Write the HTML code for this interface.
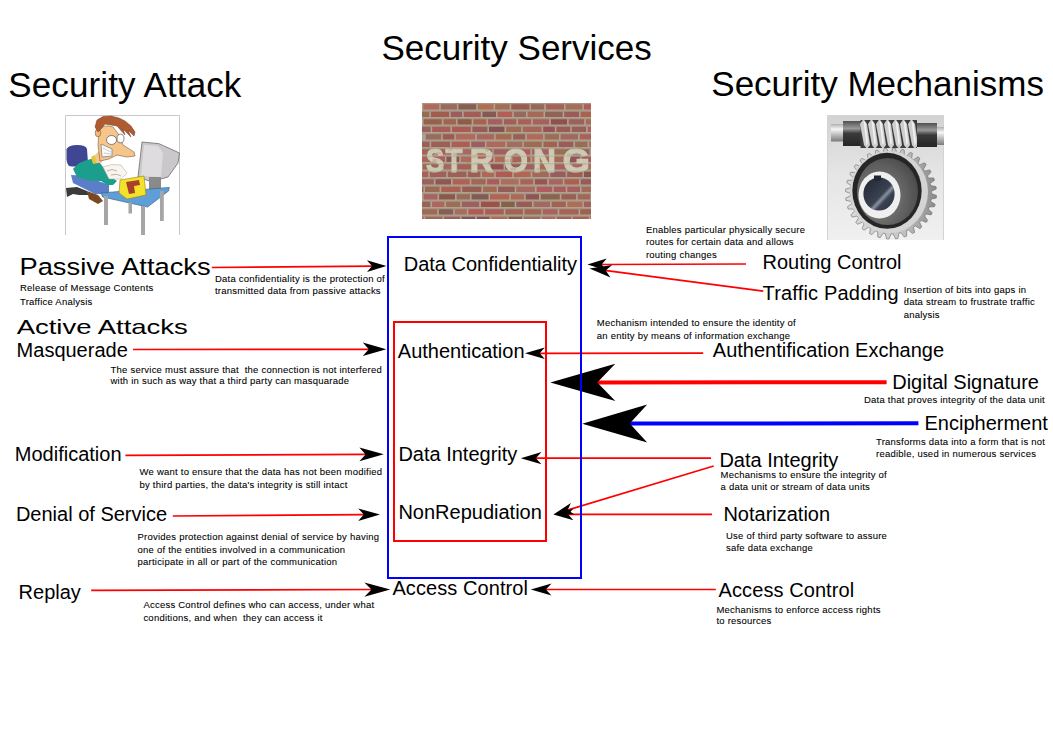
<!DOCTYPE html>
<html><head><meta charset="utf-8"><style>
html,body{margin:0;padding:0;background:#fff;width:1053px;height:745px;overflow:hidden;}
svg text{font-family:"Liberation Sans", sans-serif;fill:#000;}
</style></head><body>
<svg width="1053" height="745" viewBox="0 0 1053 745" style="position:absolute;left:0;top:0">
<g transform="translate(65,115)">
<defs><filter id="cb" x="-5%" y="-5%" width="110%" height="110%"><feGaussianBlur stdDeviation="0.45"/></filter></defs>
<rect x="0" y="0" width="115" height="120" fill="#fff"/>
<path d="M0.5,120 V0.5 H114.5 V120" fill="none" stroke="#c8c8c8" stroke-width="1"/>
<g filter="url(#cb)">
<path d="M1.5,34 Q4,30 12,30 Q21,30 22,34 L23,48 Q14,53 4,51 Q1,48 1.5,40 Z" fill="#3f4494"/>
<path d="M1,73 L12,72 L22,76 L24,80 L14,80 L8,79 L2,82 Z" fill="#3a3a3a"/>
<path d="M6,60 Q16,60 28,64 L44,70 L44,79 L30,79 L20,74 L8,68 Z" fill="#5a7ec8"/>
<path d="M22,76 L33,80 L38,86 L33,89 L24,84 Z" fill="#7a4a24"/>
<path d="M8,54 Q14,46 26,44 L32,44 L38,52 L46,62 L52,66 L48,70 L42,70 L36,66 L26,66 L12,62 Z" fill="#1f9e8c"/>
<path d="M26,42 L30,40 L33,48 L28,49 Z" fill="#e0c838"/>
<path d="M30,40 L36,34 L42,40 L36,48 L31,48 Z" fill="#f5c58a"/>
<path d="M34,14 Q40,9 48,12 L54,20 L58,30 L69,37 L70,41 L62,42 L52,40 L44,44 L35,46 L33,30 Z" fill="#f5c58a" stroke="#7a5a40" stroke-width="0.6"/>
<ellipse cx="33" cy="18" rx="2.8" ry="3.8" fill="#f2b878" stroke="#7a5a40" stroke-width="0.6"/>
<path d="M30,12 L32,5 L38,1.5 L46,1 L54,3 L60,6 L66,11 L70,17 L69,21 L63,15 L66,22 L58,14 L60,20 L52,11 L46,10 L40,9 L36,14 L33,17 Z" fill="#b05a32" stroke="#6a3a20" stroke-width="0.5"/>
<ellipse cx="46.5" cy="25" rx="5" ry="4.5" fill="#fff" stroke="#555" stroke-width="0.7"/>
<ellipse cx="55.5" cy="23.5" rx="3.5" ry="4.3" fill="#fff" stroke="#555" stroke-width="0.7"/>
<path d="M36,29 L47,34 L47,41 L37,42 Z" fill="#fafafa" stroke="#666" stroke-width="0.6"/>
<path d="M38,33 L46,37 M39,38 L46,39" stroke="#888" stroke-width="0.4"/>
<path d="M38,52 Q46,48 56,50 L62,58 L56,64 L44,64 Z" fill="#f8f4f0" stroke="#b8a090" stroke-width="0.5"/>
<path d="M42,56 Q47,53 52,56 M46,60 Q52,58 56,61" stroke="#a08070" stroke-width="0.6" fill="none"/>
<path d="M77,27 L94,28.7 L114.5,38 L113,48 L103,62 L96,64 L84,66 L73,62 Z" fill="#cac8ca" stroke="#6c6c6c" stroke-width="0.8"/>
<path d="M79,30 L93,31 L98,38 L96,62 L76,61 Z" fill="#dedcde"/>
<path d="M84,62 L96,62 L96,77 L84,77 Z" fill="#8a8a8a"/>
<path d="M36,78 L104.3,72.4 L103.5,76 L82.5,92 L37.7,82 Z" fill="#5f9ed6" stroke="#3f6488" stroke-width="0.7"/>
<path d="M55,65 L79,61 L81,80 L62,84 L54,78 Z" fill="#f2e22a" stroke="#9a7a20" stroke-width="0.6"/>
<path d="M61,67 L74,65 L75,70 L69,71 L70,78 L64,79 Z" fill="#a8402a"/>
<rect x="39" y="81" width="4" height="29" fill="#a6a6a6"/>
<rect x="63.5" y="87.5" width="3.5" height="11" fill="#a6a6a6"/>
<rect x="76" y="91" width="4" height="29" fill="#a6a6a6"/>
<rect x="95" y="76" width="3.8" height="30" fill="#a6a6a6"/>
</g></g>
<g transform="translate(422,103)">
<defs><clipPath id="wc"><rect x="0" y="0" width="169" height="116"/></clipPath><filter id="bl" x="-10%" y="-10%" width="120%" height="120%"><feGaussianBlur stdDeviation="0.7"/></filter><filter id="bl2" x="-10%" y="-10%" width="120%" height="120%"><feGaussianBlur stdDeviation="0.75"/></filter></defs>
<g clip-path="url(#wc)">
<rect x="0" y="0" width="169" height="116" fill="#aea290"/>
<g filter="url(#bl2)">
<rect x="1.3" y="1.2" width="15.9" height="5.3" fill="rgb(179,104,94)"/>
<rect x="18.8" y="1.2" width="16.1" height="5.3" fill="rgb(155,106,95)"/>
<rect x="36.5" y="1.2" width="17.7" height="5.3" fill="rgb(133,94,81)"/>
<rect x="55.8" y="1.2" width="15.7" height="5.3" fill="rgb(178,110,81)"/>
<rect x="73.1" y="1.2" width="14.6" height="5.3" fill="rgb(164,110,85)"/>
<rect x="89.3" y="1.2" width="18.1" height="5.3" fill="rgb(152,91,81)"/>
<rect x="108.9" y="1.2" width="13.3" height="5.3" fill="rgb(150,104,90)"/>
<rect x="123.9" y="1.2" width="18.1" height="5.3" fill="rgb(166,97,89)"/>
<rect x="143.6" y="1.2" width="16.7" height="5.3" fill="rgb(164,110,88)"/>
<rect x="161.9" y="1.2" width="15.8" height="5.3" fill="rgb(179,92,88)"/>
<rect x="-6.4" y="8.7" width="13.7" height="5.3" fill="rgb(152,108,83)"/>
<rect x="8.9" y="8.7" width="18.2" height="5.3" fill="rgb(162,92,80)"/>
<rect x="28.7" y="8.7" width="11.4" height="5.3" fill="rgb(156,91,95)"/>
<rect x="41.7" y="8.7" width="17.1" height="5.3" fill="rgb(163,92,86)"/>
<rect x="60.4" y="8.7" width="13.6" height="5.3" fill="rgb(132,89,82)"/>
<rect x="75.5" y="8.7" width="14.7" height="5.3" fill="rgb(179,93,84)"/>
<rect x="91.8" y="8.7" width="12.2" height="5.3" fill="rgb(151,104,95)"/>
<rect x="105.6" y="8.7" width="15.9" height="5.3" fill="rgb(164,106,86)"/>
<rect x="123.1" y="8.7" width="17.6" height="5.3" fill="rgb(143,100,84)"/>
<rect x="142.3" y="8.7" width="14.8" height="5.3" fill="rgb(156,90,88)"/>
<rect x="158.6" y="8.7" width="19.2" height="5.3" fill="rgb(168,99,80)"/>
<rect x="1.6" y="16.2" width="18.2" height="5.3" fill="rgb(150,98,75)"/>
<rect x="21.5" y="16.2" width="12.6" height="5.3" fill="rgb(164,98,80)"/>
<rect x="35.6" y="16.2" width="14.0" height="5.3" fill="rgb(139,92,74)"/>
<rect x="51.3" y="16.2" width="13.1" height="5.3" fill="rgb(170,97,80)"/>
<rect x="65.9" y="16.2" width="14.4" height="5.3" fill="rgb(164,94,95)"/>
<rect x="81.9" y="16.2" width="12.5" height="5.3" fill="rgb(162,95,84)"/>
<rect x="96.0" y="16.2" width="13.2" height="5.3" fill="rgb(169,97,86)"/>
<rect x="110.8" y="16.2" width="16.4" height="5.3" fill="rgb(167,96,92)"/>
<rect x="128.9" y="16.2" width="16.2" height="5.3" fill="rgb(143,81,75)"/>
<rect x="146.7" y="16.2" width="15.5" height="5.3" fill="rgb(158,97,92)"/>
<rect x="163.8" y="16.2" width="18.0" height="5.3" fill="rgb(169,105,89)"/>
<rect x="-10.6" y="23.7" width="19.2" height="5.3" fill="rgb(154,97,95)"/>
<rect x="10.2" y="23.7" width="18.2" height="5.3" fill="rgb(169,92,88)"/>
<rect x="30.1" y="23.7" width="18.7" height="5.3" fill="rgb(173,90,82)"/>
<rect x="50.4" y="23.7" width="15.0" height="5.3" fill="rgb(151,91,85)"/>
<rect x="66.9" y="23.7" width="15.6" height="5.3" fill="rgb(134,82,83)"/>
<rect x="84.2" y="23.7" width="15.0" height="5.3" fill="rgb(160,106,84)"/>
<rect x="100.8" y="23.7" width="18.8" height="5.3" fill="rgb(165,101,89)"/>
<rect x="121.2" y="23.7" width="11.6" height="5.3" fill="rgb(150,82,87)"/>
<rect x="134.4" y="23.7" width="13.9" height="5.3" fill="rgb(154,92,82)"/>
<rect x="149.8" y="23.7" width="14.3" height="5.3" fill="rgb(151,94,90)"/>
<rect x="165.8" y="23.7" width="16.9" height="5.3" fill="rgb(178,92,93)"/>
<rect x="3.8" y="31.2" width="15.4" height="5.3" fill="rgb(150,109,92)"/>
<rect x="20.8" y="31.2" width="11.5" height="5.3" fill="rgb(152,92,82)"/>
<rect x="33.9" y="31.2" width="19.3" height="5.3" fill="rgb(178,103,90)"/>
<rect x="54.9" y="31.2" width="17.3" height="5.3" fill="rgb(168,104,94)"/>
<rect x="73.7" y="31.2" width="15.7" height="5.3" fill="rgb(166,106,80)"/>
<rect x="91.1" y="31.2" width="12.1" height="5.3" fill="rgb(150,97,83)"/>
<rect x="104.8" y="31.2" width="16.3" height="5.3" fill="rgb(179,105,88)"/>
<rect x="122.7" y="31.2" width="14.3" height="5.3" fill="rgb(154,109,86)"/>
<rect x="138.6" y="31.2" width="17.4" height="5.3" fill="rgb(160,104,95)"/>
<rect x="157.7" y="31.2" width="14.0" height="5.3" fill="rgb(171,98,86)"/>
<rect x="-9.8" y="38.7" width="17.4" height="5.3" fill="rgb(156,96,92)"/>
<rect x="9.2" y="38.7" width="18.8" height="5.3" fill="rgb(156,94,84)"/>
<rect x="29.6" y="38.7" width="18.1" height="5.3" fill="rgb(177,91,82)"/>
<rect x="49.3" y="38.7" width="13.6" height="5.3" fill="rgb(155,93,94)"/>
<rect x="64.5" y="38.7" width="18.8" height="5.3" fill="rgb(176,103,92)"/>
<rect x="84.9" y="38.7" width="15.4" height="5.3" fill="rgb(160,109,94)"/>
<rect x="101.8" y="38.7" width="18.0" height="5.3" fill="rgb(158,109,81)"/>
<rect x="121.5" y="38.7" width="13.6" height="5.3" fill="rgb(161,99,80)"/>
<rect x="136.7" y="38.7" width="14.6" height="5.3" fill="rgb(156,90,88)"/>
<rect x="153.0" y="38.7" width="12.5" height="5.3" fill="rgb(151,110,83)"/>
<rect x="167.1" y="38.7" width="16.4" height="5.3" fill="rgb(170,110,91)"/>
<rect x="-0.1" y="46.2" width="13.0" height="5.3" fill="rgb(165,98,85)"/>
<rect x="14.5" y="46.2" width="17.4" height="5.3" fill="rgb(167,91,85)"/>
<rect x="33.5" y="46.2" width="17.6" height="5.3" fill="rgb(167,106,96)"/>
<rect x="52.8" y="46.2" width="17.4" height="5.3" fill="rgb(162,97,82)"/>
<rect x="71.8" y="46.2" width="18.5" height="5.3" fill="rgb(162,94,94)"/>
<rect x="91.9" y="46.2" width="16.4" height="5.3" fill="rgb(179,90,92)"/>
<rect x="110.0" y="46.2" width="16.6" height="5.3" fill="rgb(166,100,94)"/>
<rect x="128.2" y="46.2" width="19.3" height="5.3" fill="rgb(153,110,83)"/>
<rect x="149.0" y="46.2" width="18.6" height="5.3" fill="rgb(152,99,90)"/>
<rect x="169.2" y="46.2" width="17.1" height="5.3" fill="rgb(130,91,88)"/>
<rect x="-7.6" y="53.7" width="15.8" height="5.3" fill="rgb(174,98,95)"/>
<rect x="9.8" y="53.7" width="13.1" height="5.3" fill="rgb(177,92,93)"/>
<rect x="24.5" y="53.7" width="12.8" height="5.3" fill="rgb(140,84,87)"/>
<rect x="38.9" y="53.7" width="15.5" height="5.3" fill="rgb(173,106,94)"/>
<rect x="56.0" y="53.7" width="15.3" height="5.3" fill="rgb(180,92,87)"/>
<rect x="73.0" y="53.7" width="15.9" height="5.3" fill="rgb(176,107,85)"/>
<rect x="90.4" y="53.7" width="18.1" height="5.3" fill="rgb(167,98,89)"/>
<rect x="110.2" y="53.7" width="19.0" height="5.3" fill="rgb(177,109,86)"/>
<rect x="130.8" y="53.7" width="12.5" height="5.3" fill="rgb(167,106,88)"/>
<rect x="144.9" y="53.7" width="13.0" height="5.3" fill="rgb(147,83,88)"/>
<rect x="159.6" y="53.7" width="14.4" height="5.3" fill="rgb(167,91,96)"/>
<rect x="0.7" y="61.2" width="19.3" height="5.3" fill="rgb(153,105,82)"/>
<rect x="21.7" y="61.2" width="11.9" height="5.3" fill="rgb(167,104,93)"/>
<rect x="35.2" y="61.2" width="17.8" height="5.3" fill="rgb(162,98,87)"/>
<rect x="54.6" y="61.2" width="12.4" height="5.3" fill="rgb(163,105,96)"/>
<rect x="68.6" y="61.2" width="12.9" height="5.3" fill="rgb(149,80,80)"/>
<rect x="83.1" y="61.2" width="17.6" height="5.3" fill="rgb(150,91,86)"/>
<rect x="102.4" y="61.2" width="11.5" height="5.3" fill="rgb(159,100,91)"/>
<rect x="115.5" y="61.2" width="15.4" height="5.3" fill="rgb(165,108,83)"/>
<rect x="132.4" y="61.2" width="16.4" height="5.3" fill="rgb(172,96,96)"/>
<rect x="150.4" y="61.2" width="11.6" height="5.3" fill="rgb(170,103,96)"/>
<rect x="163.6" y="61.2" width="15.7" height="5.3" fill="rgb(177,110,86)"/>
<rect x="-10.1" y="68.7" width="16.3" height="5.3" fill="rgb(177,94,87)"/>
<rect x="7.8" y="68.7" width="16.4" height="5.3" fill="rgb(161,95,90)"/>
<rect x="25.8" y="68.7" width="18.5" height="5.3" fill="rgb(156,96,86)"/>
<rect x="45.9" y="68.7" width="12.5" height="5.3" fill="rgb(157,94,82)"/>
<rect x="60.0" y="68.7" width="12.2" height="5.3" fill="rgb(176,103,84)"/>
<rect x="73.8" y="68.7" width="16.4" height="5.3" fill="rgb(175,90,83)"/>
<rect x="91.8" y="68.7" width="16.9" height="5.3" fill="rgb(179,101,83)"/>
<rect x="110.3" y="68.7" width="16.5" height="5.3" fill="rgb(160,106,86)"/>
<rect x="128.3" y="68.7" width="15.3" height="5.3" fill="rgb(150,91,96)"/>
<rect x="145.2" y="68.7" width="15.3" height="5.3" fill="rgb(156,95,83)"/>
<rect x="162.0" y="68.7" width="18.1" height="5.3" fill="rgb(139,83,73)"/>
<rect x="-0.1" y="76.2" width="12.0" height="5.3" fill="rgb(153,100,92)"/>
<rect x="13.5" y="76.2" width="15.5" height="5.3" fill="rgb(143,86,83)"/>
<rect x="30.7" y="76.2" width="17.0" height="5.3" fill="rgb(177,96,85)"/>
<rect x="49.3" y="76.2" width="14.3" height="5.3" fill="rgb(161,102,86)"/>
<rect x="65.1" y="76.2" width="12.2" height="5.3" fill="rgb(175,90,90)"/>
<rect x="78.9" y="76.2" width="17.8" height="5.3" fill="rgb(172,110,92)"/>
<rect x="98.3" y="76.2" width="12.9" height="5.3" fill="rgb(168,100,88)"/>
<rect x="112.8" y="76.2" width="12.3" height="5.3" fill="rgb(153,85,84)"/>
<rect x="126.8" y="76.2" width="14.0" height="5.3" fill="rgb(167,101,93)"/>
<rect x="142.4" y="76.2" width="14.6" height="5.3" fill="rgb(173,95,82)"/>
<rect x="158.7" y="76.2" width="13.8" height="5.3" fill="rgb(153,90,91)"/>
<rect x="-10.4" y="83.7" width="11.8" height="5.3" fill="rgb(158,99,90)"/>
<rect x="3.0" y="83.7" width="14.6" height="5.3" fill="rgb(155,107,82)"/>
<rect x="19.2" y="83.7" width="19.4" height="5.3" fill="rgb(170,96,83)"/>
<rect x="40.2" y="83.7" width="19.2" height="5.3" fill="rgb(150,93,83)"/>
<rect x="61.1" y="83.7" width="13.5" height="5.3" fill="rgb(162,106,81)"/>
<rect x="76.1" y="83.7" width="16.6" height="5.3" fill="rgb(150,93,88)"/>
<rect x="94.3" y="83.7" width="18.6" height="5.3" fill="rgb(167,107,96)"/>
<rect x="114.6" y="83.7" width="15.6" height="5.3" fill="rgb(177,93,94)"/>
<rect x="131.7" y="83.7" width="12.0" height="5.3" fill="rgb(169,91,92)"/>
<rect x="145.3" y="83.7" width="12.7" height="5.3" fill="rgb(165,95,95)"/>
<rect x="159.6" y="83.7" width="16.2" height="5.3" fill="rgb(163,105,93)"/>
<rect x="1.6" y="91.2" width="13.9" height="5.3" fill="rgb(166,99,95)"/>
<rect x="17.1" y="91.2" width="15.9" height="5.3" fill="rgb(139,89,72)"/>
<rect x="34.6" y="91.2" width="13.4" height="5.3" fill="rgb(151,110,85)"/>
<rect x="49.6" y="91.2" width="16.9" height="5.3" fill="rgb(131,90,84)"/>
<rect x="68.0" y="91.2" width="19.3" height="5.3" fill="rgb(180,100,82)"/>
<rect x="88.9" y="91.2" width="13.2" height="5.3" fill="rgb(173,105,88)"/>
<rect x="103.7" y="91.2" width="13.3" height="5.3" fill="rgb(146,83,86)"/>
<rect x="118.7" y="91.2" width="19.1" height="5.3" fill="rgb(137,99,75)"/>
<rect x="139.4" y="91.2" width="14.7" height="5.3" fill="rgb(153,96,81)"/>
<rect x="155.7" y="91.2" width="12.6" height="5.3" fill="rgb(161,104,84)"/>
<rect x="169.9" y="91.2" width="15.0" height="5.3" fill="rgb(158,110,93)"/>
<rect x="-9.5" y="98.7" width="17.9" height="5.3" fill="rgb(154,99,84)"/>
<rect x="10.1" y="98.7" width="12.3" height="5.3" fill="rgb(178,99,96)"/>
<rect x="24.0" y="98.7" width="14.3" height="5.3" fill="rgb(158,109,86)"/>
<rect x="39.8" y="98.7" width="17.4" height="5.3" fill="rgb(156,97,96)"/>
<rect x="58.9" y="98.7" width="18.7" height="5.3" fill="rgb(158,81,73)"/>
<rect x="79.2" y="98.7" width="13.5" height="5.3" fill="rgb(130,99,73)"/>
<rect x="94.3" y="98.7" width="15.7" height="5.3" fill="rgb(152,92,85)"/>
<rect x="111.6" y="98.7" width="16.4" height="5.3" fill="rgb(161,105,95)"/>
<rect x="129.7" y="98.7" width="14.1" height="5.3" fill="rgb(165,94,82)"/>
<rect x="145.4" y="98.7" width="15.0" height="5.3" fill="rgb(176,109,86)"/>
<rect x="161.9" y="98.7" width="17.4" height="5.3" fill="rgb(162,94,91)"/>
<rect x="-1.0" y="106.2" width="16.2" height="5.3" fill="rgb(159,107,85)"/>
<rect x="16.8" y="106.2" width="14.4" height="5.3" fill="rgb(133,94,82)"/>
<rect x="32.7" y="106.2" width="12.1" height="5.3" fill="rgb(168,108,95)"/>
<rect x="46.4" y="106.2" width="15.1" height="5.3" fill="rgb(176,90,82)"/>
<rect x="63.1" y="106.2" width="18.7" height="5.3" fill="rgb(169,92,89)"/>
<rect x="83.4" y="106.2" width="17.5" height="5.3" fill="rgb(160,99,84)"/>
<rect x="102.5" y="106.2" width="16.7" height="5.3" fill="rgb(160,101,83)"/>
<rect x="120.7" y="106.2" width="14.9" height="5.3" fill="rgb(169,98,94)"/>
<rect x="137.3" y="106.2" width="19.3" height="5.3" fill="rgb(164,100,87)"/>
<rect x="158.2" y="106.2" width="18.9" height="5.3" fill="rgb(158,96,79)"/>
<rect x="-10.0" y="113.7" width="11.6" height="5.3" fill="rgb(171,102,92)"/>
<rect x="3.2" y="113.7" width="17.3" height="5.3" fill="rgb(161,102,84)"/>
<rect x="22.1" y="113.7" width="15.9" height="5.3" fill="rgb(155,92,94)"/>
<rect x="39.6" y="113.7" width="13.7" height="5.3" fill="rgb(130,87,88)"/>
<rect x="54.9" y="113.7" width="12.7" height="5.3" fill="rgb(139,80,85)"/>
<rect x="69.2" y="113.7" width="15.8" height="5.3" fill="rgb(175,107,82)"/>
<rect x="86.5" y="113.7" width="13.6" height="5.3" fill="rgb(133,90,74)"/>
<rect x="101.7" y="113.7" width="16.6" height="5.3" fill="rgb(153,110,93)"/>
<rect x="119.9" y="113.7" width="13.2" height="5.3" fill="rgb(174,106,90)"/>
<rect x="134.7" y="113.7" width="14.6" height="5.3" fill="rgb(160,100,84)"/>
<rect x="150.9" y="113.7" width="15.7" height="5.3" fill="rgb(173,92,81)"/>
<rect x="168.2" y="113.7" width="18.0" height="5.3" fill="rgb(171,101,80)"/>
</g>
<g filter="url(#bl)" opacity="0.9">
<text x="0" y="0" transform="translate(4.0,69) scale(0.820,1)" font-size="33" font-weight="bold" style="fill:#d2d4bc;stroke:#d2d4bc;stroke-width:1.2px">S</text>
<text x="0" y="0" transform="translate(23.5,69) scale(0.840,1)" font-size="33" font-weight="bold" style="fill:#d2d4bc;stroke:#d2d4bc;stroke-width:1.2px">T</text>
<text x="0" y="0" transform="translate(47.7,69) scale(1.000,1)" font-size="33" font-weight="bold" style="fill:#d2d4bc;stroke:#d2d4bc;stroke-width:1.2px">R</text>
<text x="0" y="0" transform="translate(81.9,69) scale(0.930,1)" font-size="33" font-weight="bold" style="fill:#d2d4bc;stroke:#d2d4bc;stroke-width:1.2px">O</text>
<text x="0" y="0" transform="translate(111.0,69) scale(0.960,1)" font-size="33" font-weight="bold" style="fill:#d2d4bc;stroke:#d2d4bc;stroke-width:1.2px">N</text>
<text x="0" y="0" transform="translate(140.7,69) scale(1.050,1)" font-size="33" font-weight="bold" style="fill:#d2d4bc;stroke:#d2d4bc;stroke-width:1.2px">G</text>
</g>
<g opacity="0.22" filter="url(#bl2)">
<rect x="0" y="0.0" width="169" height="1.3" fill="#8a6a60"/>
<rect x="0" y="7.5" width="169" height="1.3" fill="#8a6a60"/>
<rect x="0" y="15.0" width="169" height="1.3" fill="#8a6a60"/>
<rect x="0" y="22.5" width="169" height="1.3" fill="#8a6a60"/>
<rect x="0" y="30.0" width="169" height="1.3" fill="#8a6a60"/>
<rect x="0" y="37.5" width="169" height="1.3" fill="#8a6a60"/>
<rect x="0" y="45.0" width="169" height="1.3" fill="#8a6a60"/>
<rect x="0" y="52.5" width="169" height="1.3" fill="#8a6a60"/>
<rect x="0" y="60.0" width="169" height="1.3" fill="#8a6a60"/>
<rect x="0" y="67.5" width="169" height="1.3" fill="#8a6a60"/>
<rect x="0" y="75.0" width="169" height="1.3" fill="#8a6a60"/>
<rect x="0" y="82.5" width="169" height="1.3" fill="#8a6a60"/>
<rect x="0" y="90.0" width="169" height="1.3" fill="#8a6a60"/>
<rect x="0" y="97.5" width="169" height="1.3" fill="#8a6a60"/>
<rect x="0" y="105.0" width="169" height="1.3" fill="#8a6a60"/>
<rect x="0" y="112.5" width="169" height="1.3" fill="#8a6a60"/>
<rect x="140.9" y="71.1" width="5.8" height="3.1" fill="#a06058"/>
<rect x="88.5" y="64.9" width="5.2" height="2.6" fill="#a06058"/>
<rect x="71.1" y="45.1" width="5.0" height="4.0" fill="#a06058"/>
<rect x="63.5" y="45.9" width="2.8" height="2.6" fill="#a06058"/>
<rect x="49.4" y="73.9" width="2.2" height="2.3" fill="#a06058"/>
<rect x="19.4" y="62.7" width="5.1" height="1.9" fill="#a06058"/>
<rect x="10.5" y="56.1" width="4.3" height="3.8" fill="#a06058"/>
<rect x="6.1" y="43.8" width="2.7" height="2.0" fill="#a06058"/>
<rect x="39.8" y="65.1" width="4.4" height="2.1" fill="#a06058"/>
<rect x="31.3" y="49.8" width="2.7" height="3.4" fill="#a06058"/>
<rect x="52.7" y="59.2" width="5.3" height="2.7" fill="#a06058"/>
<rect x="44.0" y="71.1" width="5.7" height="2.4" fill="#a06058"/>
<rect x="92.5" y="73.5" width="3.9" height="2.1" fill="#a06058"/>
<rect x="8.4" y="73.2" width="5.2" height="2.5" fill="#a06058"/>
<rect x="89.2" y="58.1" width="3.1" height="4.0" fill="#a06058"/>
<rect x="111.1" y="48.3" width="2.0" height="2.7" fill="#a06058"/>
<rect x="62.8" y="67.9" width="4.9" height="3.0" fill="#a06058"/>
<rect x="26.6" y="45.5" width="3.3" height="2.1" fill="#a06058"/>
<rect x="146.9" y="58.1" width="4.5" height="4.0" fill="#a06058"/>
<rect x="45.0" y="58.7" width="2.6" height="3.4" fill="#a06058"/>
<rect x="0.2" y="68.7" width="5.4" height="3.6" fill="#a06058"/>
<rect x="13.9" y="49.4" width="4.9" height="1.7" fill="#a06058"/>
<rect x="81.1" y="56.4" width="5.8" height="3.0" fill="#a06058"/>
<rect x="144.9" y="50.6" width="5.2" height="2.5" fill="#a06058"/>
<rect x="154.9" y="43.2" width="5.3" height="2.0" fill="#a06058"/>
<rect x="91.8" y="58.4" width="2.6" height="3.6" fill="#a06058"/>
<rect x="52.6" y="50.9" width="2.3" height="2.3" fill="#a06058"/>
<rect x="79.0" y="65.0" width="3.4" height="3.2" fill="#a06058"/>
<rect x="17.9" y="53.8" width="3.8" height="3.9" fill="#a06058"/>
<rect x="140.2" y="62.9" width="2.0" height="2.4" fill="#a06058"/>
<rect x="120.0" y="48.3" width="4.3" height="2.6" fill="#a06058"/>
<rect x="1.8" y="74.7" width="5.2" height="2.0" fill="#a06058"/>
<rect x="104.1" y="50.2" width="3.5" height="2.8" fill="#a06058"/>
<rect x="50.4" y="51.8" width="3.6" height="3.2" fill="#a06058"/>
<rect x="43.3" y="47.0" width="4.9" height="2.3" fill="#a06058"/>
<rect x="159.7" y="59.7" width="4.9" height="2.3" fill="#a06058"/>
<rect x="139.7" y="43.2" width="2.6" height="1.7" fill="#a06058"/>
<rect x="114.5" y="64.8" width="2.7" height="2.5" fill="#a06058"/>
<rect x="141.4" y="60.7" width="2.4" height="2.1" fill="#a06058"/>
<rect x="26.5" y="44.3" width="3.6" height="1.7" fill="#a06058"/>
</g>
</g></g>
<g transform="translate(827,115)">
<defs><linearGradient id="gbg" x1="0" y1="0" x2="0" y2="1"><stop offset="0" stop-color="#d2d2d2"/><stop offset="0.5" stop-color="#e6e6e6"/><stop offset="1" stop-color="#f0f0f0"/></linearGradient><radialGradient id="gin" cx="0.35" cy="0.6" r="0.7"><stop offset="0" stop-color="#8c8c8c"/><stop offset="1" stop-color="#4a4a4a"/></radialGradient><linearGradient id="gth" x1="0" y1="0" x2="1" y2="0"><stop offset="0" stop-color="#dadada"/><stop offset="0.6" stop-color="#c8c8c8"/><stop offset="1" stop-color="#8a8a8a"/></linearGradient><linearGradient id="gcol" x1="0" y1="0" x2="0" y2="1"><stop offset="0" stop-color="#505050"/><stop offset="0.3" stop-color="#9a9a9a"/><stop offset="0.5" stop-color="#3a3a3a"/><stop offset="1" stop-color="#262626"/></linearGradient><linearGradient id="gend" x1="0" y1="0" x2="0" y2="1"><stop offset="0" stop-color="#b0b0b0"/><stop offset="0.3" stop-color="#f6f6f6"/><stop offset="0.6" stop-color="#c0c0c0"/><stop offset="1" stop-color="#7a7a7a"/></linearGradient><linearGradient id="gbore" x1="0" y1="0" x2="1" y2="1"><stop offset="0" stop-color="#20242e"/><stop offset="0.55" stop-color="#3a4252"/><stop offset="0.62" stop-color="#8a92a2"/><stop offset="0.7" stop-color="#3a4252"/><stop offset="1" stop-color="#2a303c"/></linearGradient><filter id="gb" x="-10%" y="-10%" width="120%" height="120%"><feGaussianBlur stdDeviation="0.55"/></filter><clipPath id="gc"><rect x="0" y="0" width="117" height="125"/></clipPath></defs>
<rect x="0" y="0" width="117" height="125" fill="url(#gbg)"/>
<path d="M0.5,125 V0.5 H116.5 V125" fill="none" stroke="#d4d4d4" stroke-width="1"/>
<g filter="url(#gb)" clip-path="url(#gc)">
<polygon points="104.5,78.5 109.5,80.5 109.3,83.0 104.1,84.2 103.7,86.4 108.2,89.3 107.5,91.7 102.2,91.9 101.4,94.0 105.2,97.7 104.1,99.9 98.9,99.1 97.7,101.0 100.7,105.4 99.2,107.4 94.2,105.5 92.6,107.1 94.8,112.0 92.9,113.7 88.3,110.9 86.5,112.2 87.6,117.4 85.4,118.6 81.5,115.0 79.5,115.9 79.6,121.2 77.2,122.0 74.1,117.7 71.9,118.2 70.9,123.5 68.5,123.8 66.2,118.9 64.0,119.0 62.0,124.0 59.5,123.8 58.3,118.6 56.1,118.2 53.2,122.7 50.8,122.0 50.6,116.7 48.5,115.9 44.8,119.7 42.6,118.6 43.4,113.4 41.5,112.2 37.1,115.2 35.1,113.7 37.0,108.7 35.4,107.1 30.5,109.3 28.8,107.4 31.6,102.8 30.3,101.0 25.1,102.1 23.9,99.9 27.5,96.0 26.6,94.0 21.3,94.1 20.5,91.7 24.8,88.6 24.3,86.4 19.0,85.4 18.7,83.0 23.6,80.7 23.5,78.5 18.5,76.5 18.7,74.0 23.9,72.8 24.3,70.6 19.8,67.7 20.5,65.3 25.8,65.1 26.6,63.0 22.8,59.3 23.9,57.1 29.1,57.9 30.3,56.0 27.3,51.6 28.8,49.6 33.8,51.5 35.4,49.9 33.2,45.0 35.1,43.3 39.7,46.1 41.5,44.8 40.4,39.6 42.6,38.4 46.5,42.0 48.5,41.1 48.4,35.8 50.8,35.0 53.9,39.3 56.1,38.8 57.1,33.5 59.5,33.2 61.8,38.1 64.0,38.0 66.0,33.0 68.5,33.2 69.7,38.4 71.9,38.8 74.8,34.3 77.2,35.0 77.4,40.3 79.5,41.1 83.2,37.3 85.4,38.4 84.6,43.6 86.5,44.8 90.9,41.8 92.9,43.3 91.0,48.3 92.6,49.9 97.5,47.7 99.2,49.6 96.4,54.2 97.7,56.0 102.9,54.9 104.1,57.1 100.5,61.0 101.4,63.0 106.7,62.9 107.5,65.3 103.2,68.4 103.7,70.6 109.0,71.6 109.3,74.0 104.4,76.3" fill="url(#gth)" stroke="#6a6a6a" stroke-width="0.6"/>
<ellipse cx="62" cy="77" rx="39" ry="41" fill="#d4d4d4"/>
<ellipse cx="60" cy="75.8" rx="34.7" ry="38" fill="#282828"/>
<ellipse cx="60.5" cy="76.5" rx="30.5" ry="33.5" fill="url(#gin)"/>
<ellipse cx="52.5" cy="80" rx="21" ry="23.6" fill="#efefef"/>
<ellipse cx="52" cy="79" rx="15.6" ry="16.6" fill="url(#gbore)"/>
<rect x="47" y="60.5" width="7" height="5" fill="#22262e"/>
<rect x="4" y="9" width="13" height="17.5" fill="url(#gend)"/>
<rect x="16" y="6" width="18" height="25" fill="url(#gcol)"/>
<rect x="33.5" y="5" width="56.5" height="28" fill="#3e3e3e"/>
<path d="M33,9 L36.5,4 L40,9 L43,30 L40,34 L37,30 Z" fill="#cfcfcf"/>
<path d="M36.5,5 L38.5,8 L41,28 L39.5,30 Z" fill="#f2f2f2"/>
<path d="M41,9 L44.5,4 L48,9 L51,30 L48,34 L45,30 Z" fill="#cfcfcf"/>
<path d="M44.5,5 L46.5,8 L49,28 L47.5,30 Z" fill="#f2f2f2"/>
<path d="M49,9 L52.5,4 L56,9 L59,30 L56,34 L53,30 Z" fill="#cfcfcf"/>
<path d="M52.5,5 L54.5,8 L57,28 L55.5,30 Z" fill="#f2f2f2"/>
<path d="M57,9 L60.5,4 L64,9 L67,30 L64,34 L61,30 Z" fill="#cfcfcf"/>
<path d="M60.5,5 L62.5,8 L65,28 L63.5,30 Z" fill="#f2f2f2"/>
<path d="M65,9 L68.5,4 L72,9 L75,30 L72,34 L69,30 Z" fill="#cfcfcf"/>
<path d="M68.5,5 L70.5,8 L73,28 L71.5,30 Z" fill="#f2f2f2"/>
<path d="M73,9 L76.5,4 L80,9 L83,30 L80,34 L77,30 Z" fill="#cfcfcf"/>
<path d="M76.5,5 L78.5,8 L81,28 L79.5,30 Z" fill="#f2f2f2"/>
<path d="M81,9 L84.5,4 L88,9 L91,30 L88,34 L85,30 Z" fill="#cfcfcf"/>
<path d="M84.5,5 L86.5,8 L89,28 L87.5,30 Z" fill="#f2f2f2"/>
<rect x="90" y="8" width="20" height="24" fill="url(#gcol)"/>
<rect x="110" y="12" width="7" height="18" fill="url(#gend)"/>
</g></g>
<line x1="211.8" y1="267.5" x2="373.0" y2="266.1" stroke="#ff0000" stroke-width="1.7"/>
<line x1="133.0" y1="349.5" x2="369.8" y2="349.3" stroke="#ff0000" stroke-width="1.7"/>
<line x1="125.4" y1="455.3" x2="366.6" y2="454.4" stroke="#ff0000" stroke-width="1.7"/>
<line x1="172.8" y1="516.0" x2="364.8" y2="514.6" stroke="#ff0000" stroke-width="1.7"/>
<line x1="91.2" y1="590.3" x2="372.5" y2="589.5" stroke="#ff0000" stroke-width="1.7"/>
<line x1="746.0" y1="264.0" x2="600.7" y2="264.5" stroke="#ff0000" stroke-width="1.7"/>
<line x1="763.3" y1="291.2" x2="604.7" y2="270.4" stroke="#ff0000" stroke-width="1.7"/>
<line x1="703.2" y1="353.2" x2="538.7" y2="353.3" stroke="#ff0000" stroke-width="1.7"/>
<line x1="886.6" y1="382.2" x2="596.3" y2="382.4" stroke="#ff0000" stroke-width="4"/>
<line x1="918.4" y1="423.3" x2="628.7" y2="423.6" stroke="#0000ff" stroke-width="4"/>
<line x1="711.0" y1="458.1" x2="534.9" y2="458.2" stroke="#ff0000" stroke-width="1.7"/>
<line x1="713.7" y1="466.0" x2="566.6" y2="510.4" stroke="#ff0000" stroke-width="1.7"/>
<line x1="712.0" y1="514.4" x2="567.2" y2="514.4" stroke="#ff0000" stroke-width="1.7"/>
<line x1="715.8" y1="589.5" x2="544.9" y2="589.5" stroke="#ff0000" stroke-width="1.7"/>
<path d="M386.4,266.0 L367.0,272.0 L372.0,266.1 L366.9,260.3 Z" fill="#000"/>
<path d="M386.3,349.3 L362.8,356.0 L368.8,349.3 L362.8,342.6 Z" fill="#000"/>
<path d="M383.8,454.3 L359.4,461.3 L365.6,454.4 L359.4,447.4 Z" fill="#000"/>
<path d="M380.0,514.5 L358.2,520.9 L363.8,514.6 L358.2,508.5 Z" fill="#000"/>
<path d="M390.3,589.5 L364.4,596.7 L371.5,589.6 L364.4,582.4 Z" fill="#000"/>
<path d="M587.4,264.6 L606.7,258.4 L601.7,264.5 L606.7,270.6 Z" fill="#000"/>
<path d="M589.5,268.4 L612.1,265.1 L605.7,270.5 L610.5,277.4 Z" fill="#000"/>
<path d="M524.9,353.3 L544.8,347.5 L539.7,353.3 L544.8,359.1 Z" fill="#000"/>
<path d="M550.3,382.4 L615.3,363.8 L597.3,382.4 L615.3,401.0 Z" fill="#000"/>
<path d="M582.2,423.7 L647.2,404.6 L629.7,423.6 L647.2,442.6 Z" fill="#000"/>
<path d="M520.8,458.2 L541.5,452.1 L535.9,458.2 L541.5,464.2 Z" fill="#000"/>
<path d="M553.4,514.4 L570.9,503.1 L567.6,510.1 L574.2,514.2 Z" fill="#000"/>
<path d="M553.4,514.4 L573.4,508.6 L568.2,514.4 L573.4,520.2 Z" fill="#000"/>
<path d="M530.8,589.5 L551.5,583.4 L545.9,589.5 L551.5,595.6 Z" fill="#000"/>
<rect x="388" y="237" width="193" height="341" fill="none" stroke="#0000ff" stroke-width="2"/>
<rect x="394" y="322" width="152" height="219" fill="none" stroke="#ff0000" stroke-width="2"/>
<text x="381.40" y="59.5" font-size="35" xml:space="preserve">Security Services</text>
<text x="8.30" y="96.5" font-size="35" letter-spacing="0.11" xml:space="preserve">Security Attack</text>
<text x="711.30" y="95.5" font-size="35" xml:space="preserve">Security Mechanisms</text>
<text transform="translate(19.42,275) scale(1.153,1)" x="0" y="0" font-size="23.7" xml:space="preserve">Passive Attacks</text>
<text transform="translate(16.63,333.5) scale(1.31,1)" x="0" y="0" font-size="21" xml:space="preserve">Active Attacks</text>
<text x="403.70" y="270.6" font-size="20" xml:space="preserve">Data Confidentiality</text>
<text x="397.80" y="357.5" font-size="20" xml:space="preserve">Authentication</text>
<text x="398.40" y="461.3" font-size="20" xml:space="preserve">Data Integrity</text>
<text x="398.40" y="519.4" font-size="20" xml:space="preserve">NonRepudiation</text>
<text x="392.40" y="594.9" font-size="20" letter-spacing="0.08" xml:space="preserve">Access Control</text>
<text x="16.60" y="357.4" font-size="20" xml:space="preserve">Masquerade</text>
<text x="14.80" y="461.1" font-size="20" xml:space="preserve">Modification</text>
<text x="15.90" y="521.2" font-size="20" xml:space="preserve">Denial of Service</text>
<text x="18.60" y="599" font-size="20" xml:space="preserve">Replay</text>
<text x="762.50" y="268.6" font-size="20" xml:space="preserve">Routing Control</text>
<text x="762.50" y="299.7" font-size="20" letter-spacing="0.19" xml:space="preserve">Traffic Padding</text>
<text x="712.80" y="356.8" font-size="20" xml:space="preserve">Authentification Exchange</text>
<text x="892.20" y="388.5" font-size="20" xml:space="preserve">Digital Signature</text>
<text x="924.50" y="429.8" font-size="20" xml:space="preserve">Encipherment</text>
<text x="719.40" y="466.8" font-size="20" xml:space="preserve">Data Integrity</text>
<text x="723.40" y="521.4" font-size="20" xml:space="preserve">Notarization</text>
<text x="718.60" y="596.6" font-size="20" letter-spacing="0.08" xml:space="preserve">Access Control</text>
<text x="20.00" y="290.9" font-size="9.5" letter-spacing="0.23" style="stroke:#000;stroke-width:0.08px" xml:space="preserve">Release of Message Contents</text>
<text x="20.00" y="304.8" font-size="9.5" letter-spacing="0.23" style="stroke:#000;stroke-width:0.08px" xml:space="preserve">Traffice Analysis</text>
<text x="215.00" y="282.3" font-size="9.5" letter-spacing="0.23" style="stroke:#000;stroke-width:0.08px" xml:space="preserve">Data confidentiality is the protection of</text>
<text x="215.00" y="293.7" font-size="9.5" letter-spacing="0.23" style="stroke:#000;stroke-width:0.08px" xml:space="preserve">transmitted data from passive attacks</text>
<text x="110.50" y="372.7" font-size="9.5" letter-spacing="0.23" style="stroke:#000;stroke-width:0.08px" xml:space="preserve">The service must assure that  the connection is not interfered</text>
<text x="110.50" y="384.0" font-size="9.5" letter-spacing="0.23" style="stroke:#000;stroke-width:0.08px" xml:space="preserve">with in such as way that a third party can masquarade</text>
<text x="139.50" y="474.8" font-size="9.5" letter-spacing="0.23" style="stroke:#000;stroke-width:0.08px" xml:space="preserve">We want to ensure that the data has not been modified</text>
<text x="139.50" y="487.7" font-size="9.5" letter-spacing="0.23" style="stroke:#000;stroke-width:0.08px" xml:space="preserve">by third parties, the data's integrity is still intact</text>
<text x="137.50" y="540.2" font-size="9.5" letter-spacing="0.23" style="stroke:#000;stroke-width:0.08px" xml:space="preserve">Provides protection against denial of service by having</text>
<text x="137.50" y="552.5500000000001" font-size="9.5" letter-spacing="0.23" style="stroke:#000;stroke-width:0.08px" xml:space="preserve">one of the entities involved in a communication</text>
<text x="137.50" y="564.9000000000001" font-size="9.5" letter-spacing="0.23" style="stroke:#000;stroke-width:0.08px" xml:space="preserve">participate in all or part of the communication</text>
<text x="143.40" y="607.8" font-size="9.5" letter-spacing="0.23" style="stroke:#000;stroke-width:0.08px" xml:space="preserve">Access Control defines who can access, under what</text>
<text x="143.40" y="620.5" font-size="9.5" letter-spacing="0.23" style="stroke:#000;stroke-width:0.08px" xml:space="preserve">conditions, and when  they can access it</text>
<text x="645.90" y="232.9" font-size="9.5" letter-spacing="0.23" style="stroke:#000;stroke-width:0.08px" xml:space="preserve">Enables particular physically secure</text>
<text x="645.90" y="245.25" font-size="9.5" letter-spacing="0.23" style="stroke:#000;stroke-width:0.08px" xml:space="preserve">routes for certain data and allows</text>
<text x="645.90" y="257.6" font-size="9.5" letter-spacing="0.23" style="stroke:#000;stroke-width:0.08px" xml:space="preserve">routing changes</text>
<text x="903.70" y="292.8" font-size="9.5" letter-spacing="0.23" style="stroke:#000;stroke-width:0.08px" xml:space="preserve">Insertion of bits into gaps in</text>
<text x="903.70" y="305.40000000000003" font-size="9.5" letter-spacing="0.23" style="stroke:#000;stroke-width:0.08px" xml:space="preserve">data stream to frustrate traffic</text>
<text x="903.70" y="318.0" font-size="9.5" letter-spacing="0.23" style="stroke:#000;stroke-width:0.08px" xml:space="preserve">analysis</text>
<text x="596.80" y="326.4" font-size="9.5" letter-spacing="0.23" style="stroke:#000;stroke-width:0.08px" xml:space="preserve">Mechanism intended to ensure the identity of</text>
<text x="596.80" y="339.0" font-size="9.5" letter-spacing="0.23" style="stroke:#000;stroke-width:0.08px" xml:space="preserve">an entity by means of information exchange</text>
<text x="864.00" y="403" font-size="9.5" letter-spacing="0.23" style="stroke:#000;stroke-width:0.08px" xml:space="preserve">Data that proves integrity of the data unit</text>
<text x="876.00" y="445.0" font-size="9.5" letter-spacing="0.23" style="stroke:#000;stroke-width:0.08px" xml:space="preserve">Transforms data into a form that is not</text>
<text x="876.00" y="456.6" font-size="9.5" letter-spacing="0.23" style="stroke:#000;stroke-width:0.08px" xml:space="preserve">readible, used in numerous services</text>
<text x="720.50" y="478.4" font-size="9.5" letter-spacing="0.23" style="stroke:#000;stroke-width:0.08px" xml:space="preserve">Mechanisms to ensure the integrity of</text>
<text x="720.50" y="490.2" font-size="9.5" letter-spacing="0.23" style="stroke:#000;stroke-width:0.08px" xml:space="preserve">a data unit or stream of data units</text>
<text x="726.00" y="539.3" font-size="9.5" letter-spacing="0.23" style="stroke:#000;stroke-width:0.08px" xml:space="preserve">Use of third party software to assure</text>
<text x="726.00" y="550.8" font-size="9.5" letter-spacing="0.23" style="stroke:#000;stroke-width:0.08px" xml:space="preserve">safe data exchange</text>
<text x="716.40" y="612.5" font-size="9.5" letter-spacing="0.23" style="stroke:#000;stroke-width:0.08px" xml:space="preserve">Mechanisms to enforce access rights</text>
<text x="716.40" y="624.4" font-size="9.5" letter-spacing="0.23" style="stroke:#000;stroke-width:0.08px" xml:space="preserve">to resources</text>
</svg>
</body></html>
